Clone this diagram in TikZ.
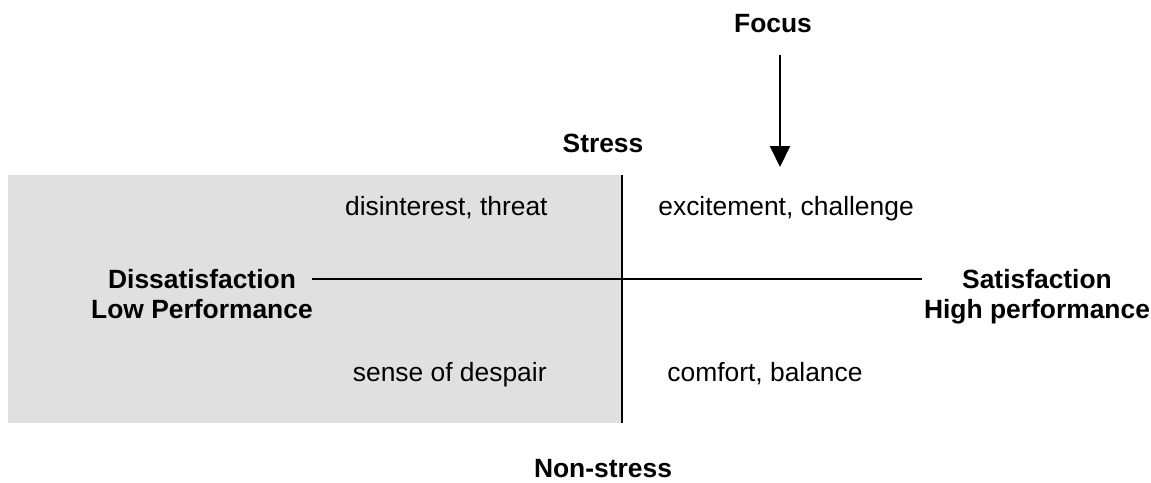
\documentclass[tikz,border=0pt]{standalone}
\usepackage{fontspec}
\setmainfont{Liberation Sans}
\usepackage{tikz}
\usetikzlibrary{arrows.meta}
\definecolor{boxgray}{RGB}{224,224,224}

\begin{document}
\begin{tikzpicture}[x=50pt,y=50pt,
  every node/.style={inner sep=0pt,font=\fontsize{13.2}{15}\selectfont},
  hd/.style={font=\fontsize{13.2}{15}\selectfont\bfseries},
  axis/.style={line width=1pt},
  focusarrow/.style={line width=1pt,-{Triangle[width=10pt,length=10.5pt]}}]
\useasboundingbox (0,0) rectangle (11.51,-4.82);
\fill [boxgray] (0.08,-1.75) rectangle (6.22,-4.23);
\coordinate (top) at (6.22,-1.75);
\coordinate (bot) at (6.22,-4.23);
\coordinate (lft) at (3.12,-2.79);
\coordinate (rgt) at (9.22,-2.79);
\coordinate (tip) at (7.80,-1.67);
\node[hd,anchor=base] (focus) at (7.73,-0.32) {Focus};
\node[hd,anchor=base] (stress) at (6.03,-1.52) {Stress};
\node[hd,anchor=base] (nonstress) at (6.03,-4.77) {Non-stress};
\node[hd,anchor=north,align=center] (dis) at (2.02,-2.685) {Dissatisfaction\\Low Performance};
\node[hd,anchor=north,align=center] (sat) at (10.37,-2.685) {Satisfaction\\High performance};
\node[anchor=base east] (threat) at (5.48,-2.15) {disinterest, threat};
\node[anchor=base east] (despair) at (5.47,-3.81) {sense of despair};
\node[anchor=base west] (challenge) at (6.58,-2.15) {excitement, challenge};
\node[anchor=base west] (balance) at (6.67,-3.81) {comfort, balance};
\draw [axis] (top) -- (bot);
\draw [axis] (lft) -- (rgt);
\draw [focusarrow,shorten <=11pt] (focus.south -| tip) -- (tip);
\end{tikzpicture}
\end{document}
